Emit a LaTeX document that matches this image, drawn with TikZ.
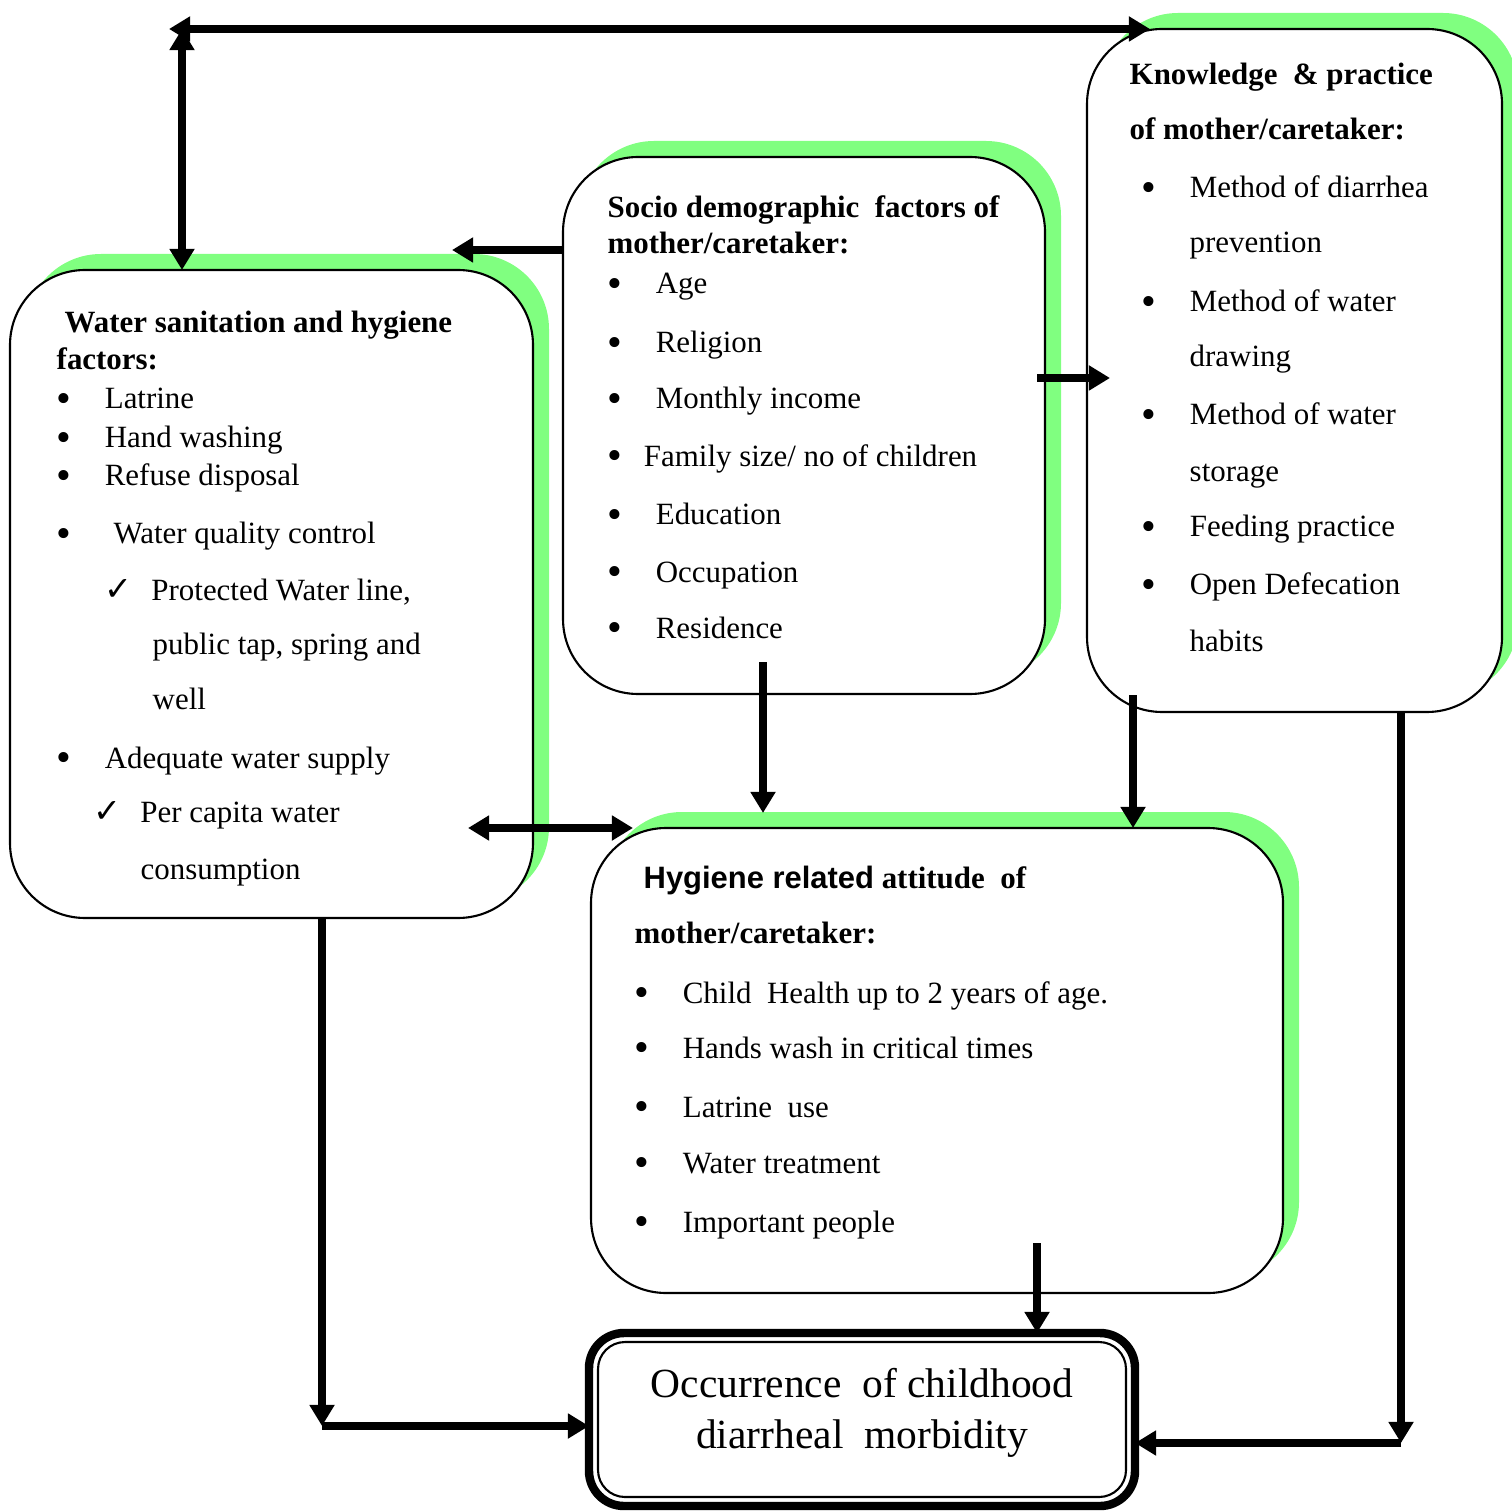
\documentclass[tikz,border=0pt]{standalone}
\usepackage{fontspec}
\setmainfont{Liberation Serif}
\newfontfamily\arialfont{Liberation Sans}
\newfontfamily\symbfont{DejaVu Sans}
\usetikzlibrary{arrows.meta,shadows}
\definecolor{shadowgreen}{HTML}{80FF80}
\newcommand{\bul}{\makebox[13.7pt][l]{\raisebox{-0.9pt}{\fontsize{12}{12}\selectfont\textbullet}}}
\newcommand{\chk}{\makebox[13.3pt][l]{\symbfont\fontsize{9.5}{9.5}\selectfont ✓}}

\begin{document}
\begin{tikzpicture}[x=0.1mm,y=-0.1mm,
  box/.style={draw, line width=0.6pt, fill=white, rounded corners=7.5mm,
    inner sep=0pt, outer sep=0pt, anchor=north west,
    general shadow={fill=shadowgreen, draw=none, shadow xshift=1.6mm, shadow yshift=1.6mm}},
  outbox/.style={draw, line width=2.4pt, fill=white, rounded corners=3.5mm, inner sep=0pt, outer sep=0pt},
  txt/.style={anchor=base west, inner sep=0pt, font=\fontsize{8.8}{10}\selectfont},
  hd/.style={txt, font=\fontsize{8.8}{10}\selectfont\bfseries},
  arr/.style={line width=2.2pt, -{Triangle[length=6pt,width=6.8pt]}},
  darr/.style={line width=2.2pt, {Triangle[length=6pt,width=6.8pt]}-{Triangle[length=6pt,width=6.8pt]}}]
\useasboundingbox (0,0) rectangle (1512,1512);

\node[box, minimum width=52.3mm, minimum height=64.8mm] (wash) at (10,270) {};
\node[box, minimum width=48.2mm, minimum height=53.7mm] (socio) at (563,157) {};
\node[box, minimum width=41.5mm, minimum height=68.3mm] (know) at (1087,29) {};
\node[box, minimum width=69.2mm, minimum height=46.5mm] (hyg) at (591,828) {};
\node[outbox, minimum width=54.6mm, minimum height=17.3mm] (out) at (862,1419.5) {};
\draw[line width=0.6pt, rounded corners=2.7mm] ([shift={(9,9)}]out.north west) rectangle ([shift={(-9,-9)}]out.south east);

\node[hd] (w1) at (64,333) {Water sanitation and hygiene};
\node[hd] (w2) at (56,370) {factors:};
\node[txt] (w3) at (56,409) {\bul Latrine};
\node[txt] (w4) at (56,448) {\bul Hand washing};
\node[txt] (w5) at (56,486) {\bul Refuse disposal};
\node[txt] (w6) at (56,544) {\bul\hspace{2.5pt}Water quality control};
\node[txt] (w7) at (104,600) {\chk Protected Water line,};
\node[txt] (w8) at (152,654) {public tap, spring and};
\node[txt] (w9) at (152,709) {well};
\node[txt] (w10) at (56,768) {\bul Adequate water supply};
\node[txt] (w11) at (93,822) {\chk Per capita water};
\node[txt] (w12) at (140,879) {consumption};

\node[hd] (s1) at (607,218) {Socio demographic\ \ factors of};
\node[hd] (s2) at (607,254) {mother/caretaker:};
\node[txt] (s3) at (607,294) {\bul Age};
\node[txt] (s4) at (607,353) {\bul Religion};
\node[txt] (s5) at (607,409) {\bul Monthly income};
\node[txt] (s6) at (607,466) {\bul\hspace{-3.4pt}Family size/ no of children};
\node[txt] (s7) at (607,525) {\bul Education};
\node[txt] (s8) at (607,582) {\bul Occupation};
\node[txt] (s9) at (607,638) {\bul Residence};

\node[hd] (k1) at (1129,85) {Knowledge\ \ \& practice};
\node[hd] (k2) at (1129,140) {of mother/caretaker:};
\node[txt] (k3) at (1141,198) {\bul Method of diarrhea};
\node[txt] (k4) at (1189,253) {prevention};
\node[txt] (k5) at (1141,312) {\bul Method of water};
\node[txt] (k6) at (1189,367) {drawing};
\node[txt] (k7) at (1141,425) {\bul Method of water};
\node[txt] (k8) at (1189,481) {storage};
\node[txt] (k9) at (1141,537) {\bul Feeding practice};
\node[txt] (k10) at (1141,595) {\bul Open Defecation};
\node[txt] (k11) at (1189,651) {habits};

\node[hd] (h1) at (643,888) {{\arialfont Hygiene related} attitude\ \ of};
\node[hd] (h2) at (634,943) {mother/caretaker:};
\node[txt] (h3) at (634,1003) {\bul Child\ \ Health up to 2 years of age.};
\node[txt] (h4) at (634,1058) {\bul Hands wash in critical times};
\node[txt] (h5) at (634,1117) {\bul Latrine\ \ use};
\node[txt] (h6) at (634,1173) {\bul Water treatment};
\node[txt] (h7) at (634,1232) {\bul Important people};

\node[align=center, inner sep=0pt, font=\fontsize{11.8}{14.5}\selectfont] (occ) at (862,1413) {Occurrence\ \ of childhood\\diarrheal\ \ morbidity};

\coordinate (tl) at (182,29);
\coordinate (tlh) at (169,29);
\coordinate (tr) at (1150,29);
\coordinate (sw) at (452,250);
\coordinate (sk) at (1037,378);
\coordinate (ks) at (1110,378);
\coordinate (wh1) at (468,828);
\coordinate (wh2) at (633,828);
\coordinate (sh) at (763,662);
\coordinate (hs) at (763,813);
\coordinate (kh) at (1133,695);
\coordinate (ho) at (1037,1243);
\coordinate (wo) at (322,1426);
\coordinate (ko) at (1401,1443);

\draw[darr] (tlh) -- (tr);
\draw[darr] (tl) -- (tl |- wash.north);
\draw[arr] (sw -| socio.west) -- (sw);
\draw[arr] (sk) -- (ks);
\draw[darr] (wh1) -- (wh2);
\draw[arr] (sh) -- (hs);
\draw[arr] (kh) -- (kh |- hyg.north);
\draw[arr] (ho) -- (ho |- out.north);
\draw[arr] (wo |- wash.south) -- (wo);
\draw[arr] (wo) -- (wo -| out.west);
\draw[arr] (ko |- know.south) -- (ko);
\draw[arr] (ko) -- (ko -| out.east);
\end{tikzpicture}
\end{document}
